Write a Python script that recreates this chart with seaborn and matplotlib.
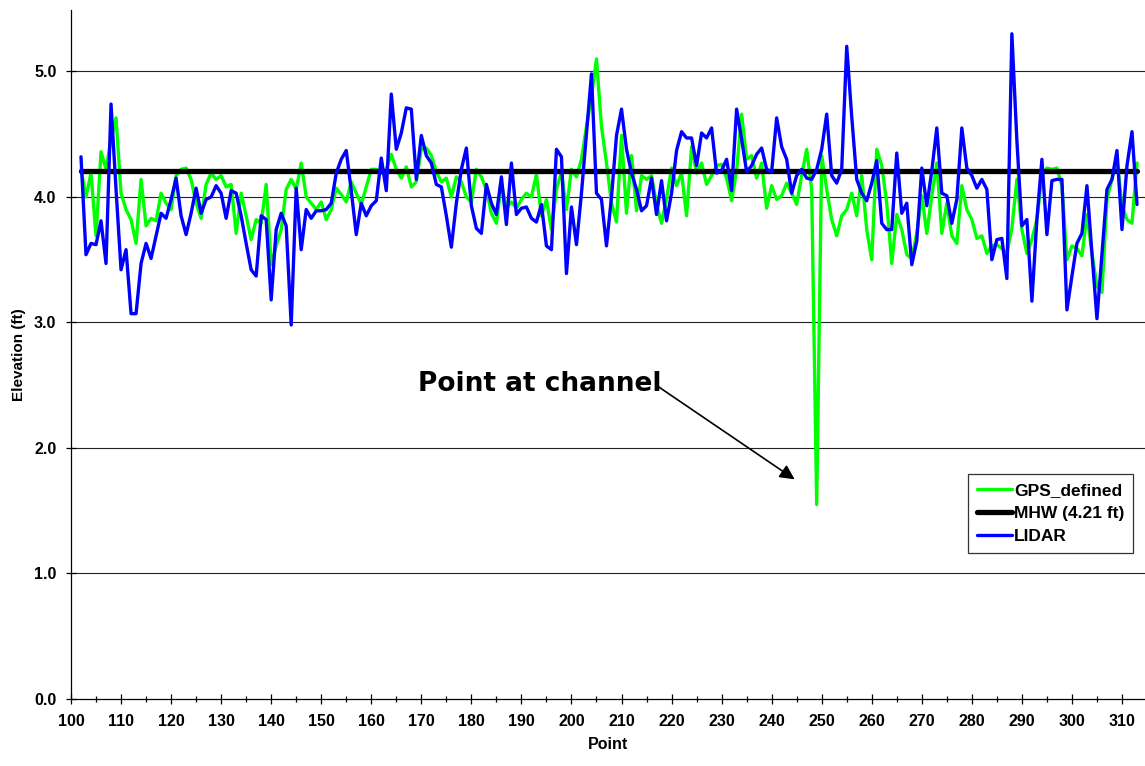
import matplotlib
matplotlib.use("Agg")
import matplotlib.pyplot as plt
import seaborn as sns
import numpy as np
from matplotlib.ticker import MultipleLocator, FormatStrFormatter

points = list(range(102, 314))

gps_defined = [
    4.22, 4.00, 4.19, 3.69, 4.36, 4.22, 4.46, 4.63, 4.03, 3.90,  # 102-111
    3.82, 3.63, 4.14, 3.77, 3.83, 3.81, 4.03, 3.95, 3.90, 4.17,  # 112-121
    4.22, 4.23, 4.14, 3.95, 3.83, 4.10, 4.19, 4.14, 4.17, 4.08,  # 122-131
    4.10, 3.71, 4.03, 3.85, 3.66, 3.82, 3.79, 4.10, 3.46, 3.61,  # 132-141
    3.74, 4.06, 4.14, 4.06, 4.27, 4.00, 3.95, 3.90, 3.96, 3.82,  # 142-151
    3.90, 4.07, 4.02, 3.96, 4.12, 4.03, 3.94, 4.08, 4.22, 4.22,  # 152-161
    4.19, 4.22, 4.34, 4.22, 4.15, 4.24, 4.08, 4.12, 4.38, 4.39,  # 162-171
    4.33, 4.20, 4.12, 4.15, 4.00, 4.16, 4.12, 4.00, 3.96, 4.22,  # 172-181
    4.16, 4.06, 3.87, 3.79, 4.11, 3.91, 3.96, 3.91, 3.98, 4.03,  # 182-191
    4.00, 4.18, 3.85, 3.98, 3.74, 4.06, 4.20, 3.90, 4.22, 4.16,  # 192-201
    4.30, 4.56, 4.80, 5.10, 4.56, 4.27, 3.95, 3.80, 4.49, 3.87,  # 202-211
    4.33, 3.89, 4.17, 4.14, 4.17, 3.94, 3.79, 3.99, 4.23, 4.09,  # 212-221
    4.19, 3.85, 4.40, 4.19, 4.27, 4.10, 4.17, 4.25, 4.26, 4.15,  # 222-231
    3.97, 4.21, 4.66, 4.30, 4.33, 4.15, 4.27, 3.91, 4.09, 3.98,  # 232-241
    4.01, 4.11, 4.03, 3.94, 4.17, 4.38, 4.06, 1.55, 4.33, 4.06,  # 242-251
    3.82, 3.69, 3.85, 3.90, 4.03, 3.85, 4.17, 3.74, 3.50, 4.38,  # 252-261
    4.25, 3.95, 3.47, 3.86, 3.74, 3.54, 3.51, 3.71, 4.01, 3.71,  # 262-271
    4.01, 4.27, 3.71, 3.95, 3.69, 3.63, 4.09, 3.90, 3.82, 3.67,  # 272-281
    3.69, 3.55, 3.61, 3.62, 3.59, 3.55, 3.75, 4.14, 3.74, 3.55,  # 282-291
    3.66, 3.82, 4.17, 4.23, 4.22, 4.23, 4.09, 3.50, 3.61, 3.59,  # 292-301
    3.53, 3.86, 3.55, 3.29, 3.24, 3.98, 4.14, 4.30, 3.93, 3.82,  # 302-311
    3.79, 4.27,                                                  # 312-313
]

lidar = [
    4.32, 3.54, 3.63, 3.62, 3.81, 3.47, 4.74, 4.06, 3.42, 3.58,  # 102-111
    3.07, 3.07, 3.47, 3.63, 3.51, 3.69, 3.87, 3.83, 3.98, 4.15,  # 112-121
    3.85, 3.70, 3.87, 4.07, 3.87, 3.98, 4.00, 4.09, 4.03, 3.83,  # 122-131
    4.05, 4.03, 3.85, 3.63, 3.42, 3.37, 3.85, 3.82, 3.18, 3.74,  # 132-141
    3.87, 3.77, 2.98, 4.07, 3.58, 3.90, 3.83, 3.89, 3.89, 3.90,  # 142-151
    3.95, 4.19, 4.30, 4.37, 4.05, 3.70, 3.95, 3.85, 3.93, 3.97,  # 152-161
    4.31, 4.05, 4.82, 4.38, 4.51, 4.71, 4.70, 4.14, 4.49, 4.33,  # 162-171
    4.27, 4.10, 4.08, 3.85, 3.60, 3.95, 4.22, 4.39, 3.93, 3.75,  # 172-181
    3.71, 4.10, 3.95, 3.86, 4.16, 3.78, 4.27, 3.86, 3.91, 3.92,  # 182-191
    3.83, 3.80, 3.94, 3.61, 3.58, 4.38, 4.32, 3.39, 3.92, 3.62,  # 192-201
    4.03, 4.51, 4.98, 4.03, 3.98, 3.61, 4.00, 4.49, 4.70, 4.38,  # 202-211
    4.19, 4.06, 3.89, 3.93, 4.15, 3.86, 4.13, 3.81, 4.03, 4.37,  # 212-221
    4.52, 4.47, 4.47, 4.25, 4.51, 4.47, 4.55, 4.19, 4.21, 4.30,  # 222-231
    4.05, 4.70, 4.46, 4.20, 4.25, 4.34, 4.39, 4.22, 4.20, 4.63,  # 232-241
    4.40, 4.30, 4.03, 4.17, 4.22, 4.15, 4.14, 4.22, 4.38, 4.66,  # 242-251
    4.17, 4.11, 4.22, 5.20, 4.64, 4.14, 4.03, 3.97, 4.11, 4.29,  # 252-261
    3.79, 3.74, 3.74, 4.35, 3.87, 3.95, 3.46, 3.65, 4.23, 3.93,  # 262-271
    4.21, 4.55, 4.03, 4.01, 3.79, 3.98, 4.55, 4.23, 4.17, 4.07,  # 272-281
    4.14, 4.06, 3.50, 3.66, 3.67, 3.35, 5.30, 4.45, 3.77, 3.82,  # 282-291
    3.17, 3.82, 4.30, 3.70, 4.13, 4.14, 4.14, 3.10, 3.37, 3.63,  # 292-301
    3.71, 4.09, 3.55, 3.03, 3.55, 4.06, 4.14, 4.37, 3.74, 4.25,  # 302-311
    4.52, 3.94,                                                  # 312-313
]

MHW = 4.21
mhw_x = [points[0], points[-1]]
mhw_y = [MHW, MHW]

x_ticks = list(range(100, 320, 10))
y_ticks = [0.0, 1.0, 2.0, 3.0, 4.0, 5.0]

sns.set_style("white")
plt.rcParams['font.family'] = ['Liberation Sans', 'DejaVu Sans']
plt.rcParams['text.color'] = 'black'
plt.rcParams['axes.labelcolor'] = 'black'
plt.rcParams['xtick.color'] = 'black'
plt.rcParams['ytick.color'] = 'black'

fig = plt.figure(figsize=(11.45, 7.66), dpi=100)
ax = fig.add_axes([0.062, 0.0875, 0.938, 0.8995])

for yv in y_ticks[1:]:
    ax.axhline(yv, color='#222222', lw=0.8, zorder=0)

sns.lineplot(x=points, y=gps_defined, ax=ax, color='#00ff00', lw=2.4,
             label='GPS_defined', zorder=2)
sns.lineplot(x=mhw_x, y=mhw_y, ax=ax, color='black', lw=3.8,
             label='MHW (4.21 ft)', zorder=3)
sns.lineplot(x=points, y=lidar, ax=ax, color='#0000ff', lw=2.4,
             label='LIDAR', zorder=4)
for ln in ax.get_lines():
    ln.set_solid_joinstyle('round')

ax.set_xlim(100, 314.6)
ax.set_ylim(0, 5.49)
ax.set_xticks(x_ticks)
ax.xaxis.set_minor_locator(MultipleLocator(5))
ax.set_yticks(y_ticks)
ax.yaxis.set_major_formatter(FormatStrFormatter('%.1f'))

for s in ['top', 'right']:
    ax.spines[s].set_visible(False)
for s in ['left', 'bottom']:
    ax.spines[s].set_color('black')
    ax.spines[s].set_linewidth(0.9)

ax.tick_params(axis='both', which='major', direction='inout', length=7,
               width=0.9, color='black', labelsize=11.5, pad=7,
               labelcolor='black')
ax.tick_params(axis='x', which='minor', direction='inout', length=5,
               width=0.9, color='black')
ax.tick_params(axis='x', which='both', bottom=True)
ax.tick_params(axis='y', which='major', left=True)
for lab in ax.get_xticklabels() + ax.get_yticklabels():
    lab.set_fontweight('bold')

ax.set_xlabel('Point', fontsize=11.5, fontweight='bold', labelpad=6,
              color='black')
ax.set_ylabel('Elevation (ft)', fontsize=11, fontweight='bold', labelpad=6,
              color='black')

ax.text(169.3, 2.51, 'Point at channel', fontsize=19, fontweight='bold',
        family='DejaVu Sans', va='center', ha='left', color='black',
        zorder=5)
ax.annotate('', xy=(244.6, 1.75), xytext=(217.3, 2.49),
            arrowprops=dict(arrowstyle='-|>', color='black', lw=1.2,
                            mutation_scale=22, shrinkA=0, shrinkB=0),
            zorder=5)

leg = ax.legend(loc='upper right', bbox_to_anchor=(0.989, 0.326),
                frameon=True, fancybox=False, edgecolor='black',
                prop={'weight': 'bold', 'size': 12.5}, handlelength=2.0,
                borderpad=0.5, labelspacing=0.45, handletextpad=0.15,
                borderaxespad=0)
leg.get_frame().set_linewidth(0.9)
for t in leg.get_texts():
    t.set_color('black')

fig.savefig('out.png', dpi=100)
